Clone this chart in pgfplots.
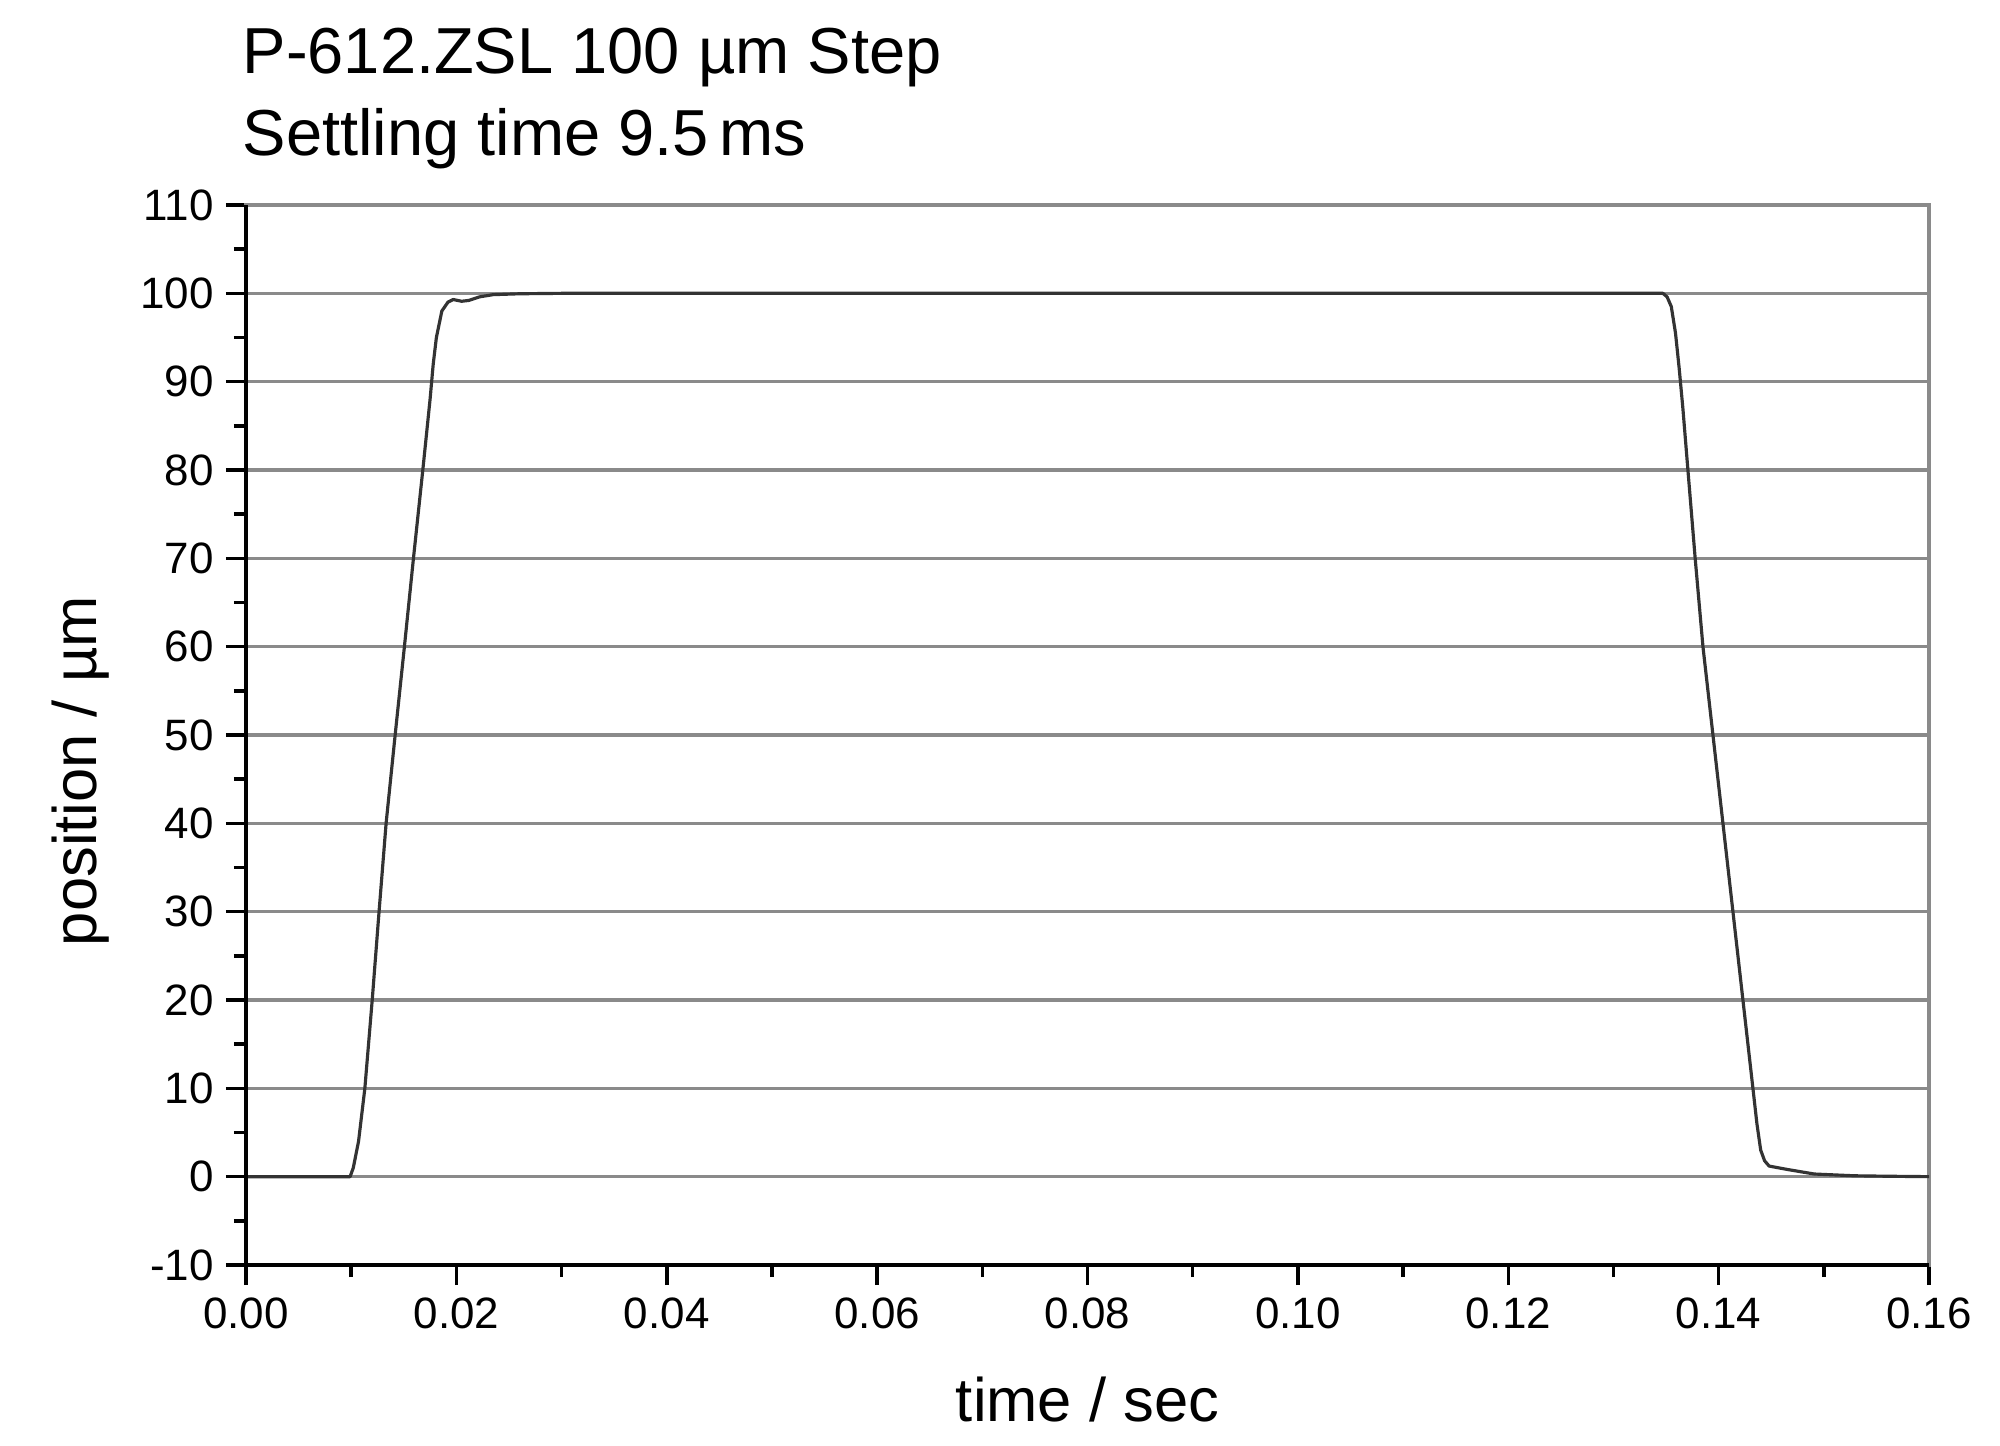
\documentclass[border=0pt]{standalone}
\usepackage{pgfplots}
\pgfplotsset{compat=1.18}
\usepackage{fontspec}
\setmainfont{Liberation Sans}
\definecolor{gridgray}{HTML}{8A8A8A}
\begin{document}
\begin{tikzpicture}
\begin{axis}[
  scale only axis,
  width=16.83cm, height=10.6cm,
  xmin=0, xmax=0.16, ymin=-10, ymax=110,
  xtick={0,0.02,...,0.16},
  ytick={-10,0,...,110},
  minor x tick num=1,
  minor y tick num=1,
  tick pos=left,
  tick align=outside,
  major tick length=0.2cm,
  minor tick length=0.12cm,
  every tick/.style={black, line width=1pt},
  ymajorgrids,
  major grid style={gridgray, line width=0.9pt},
  axis line style={gridgray, line width=0.9pt},
  /pgf/number format/assume math mode=true,
  xticklabel style={/pgf/number format/fixed, /pgf/number format/fixed zerofill, /pgf/number format/precision=2, font=\fontsize{12.5}{14}\selectfont},
  yticklabel style={font=\fontsize{12.5}{14}\selectfont},
  scaled x ticks=false,
  xlabel={time / sec},
  ylabel={position / µm},
  xlabel style={at={(axis description cs:0.5,-0.148)}, anchor=base, font=\fontsize{17.5}{20}\selectfont},
  ylabel style={at={(axis description cs:-0.0891,0.466)}, anchor=base, font=\fontsize{17.5}{20}\selectfont},
  clip=false,
]
\addplot[black!80, line width=0.9pt, line join=round] coordinates {
(0,0) (0.0099,0) (0.0102,1) (0.0107,4) (0.0113,10) (0.0120,20) (0.01265,30)
(0.01332,40) (0.01418,50) (0.01506,60) (0.01592,70) (0.01681,80) (0.01750,88)
(0.0178,92) (0.0181,95) (0.01862,98) (0.0192,99) (0.0197,99.3) (0.0205,99.1) (0.0212,99.2)
(0.0222,99.6) (0.0235,99.85) (0.026,99.95) (0.03,100) (0.06,100) (0.09,100)
(0.12,100) (0.1347,100) (0.1351,99.6) (0.1355,98.5) (0.1359,95.5) (0.13625,91.5) (0.13660,87)
(0.13708,80) (0.13777,70) (0.13851,60) (0.13946,50) (0.14041,40) (0.14136,30)
(0.14231,20) (0.14326,10) (0.14364,6) (0.14400,3) (0.14437,1.8) (0.14480,1.2) (0.1466,0.8)
(0.1491,0.3) (0.1529,0.1) (0.156,0.05) (0.16,0)
};
\draw[black, line width=1.2pt] (rel axis cs:0,1) -- (rel axis cs:0,0) -- (rel axis cs:1,0);
\coordinate (SW) at (rel axis cs:0,0);
\coordinate (NE) at (rel axis cs:1,1);
\end{axis}
\node[anchor=base west, inner sep=0pt, font=\fontsize{18.5}{22}\selectfont] at ([shift={(-0.04cm,1.31cm)}]SW|-NE) {P-612.ZSL 100 µm Step};
\node[anchor=base west, inner sep=0pt, font=\fontsize{18.5}{22}\selectfont] at ([shift={(-0.04cm,0.49cm)}]SW|-NE) {Settling time 9.5\,ms};
\pgfresetboundingbox
\path[use as bounding box] ([shift={(-2.46cm,-1.81cm)}]SW) rectangle ([shift={(0.71cm,2.05cm)}]NE);
\end{tikzpicture}
\end{document}
